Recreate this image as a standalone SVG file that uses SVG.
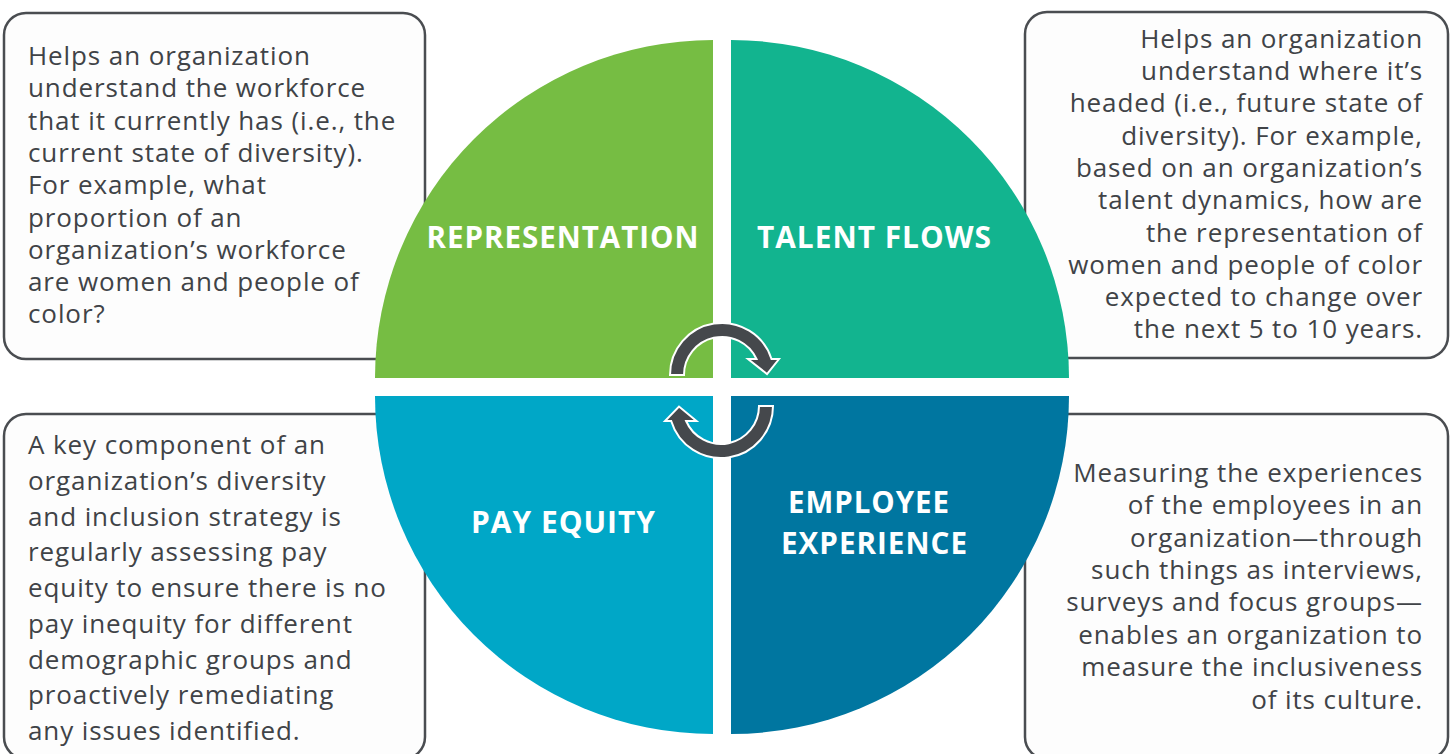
<svg xmlns="http://www.w3.org/2000/svg" width="1455" height="754" viewBox="0 0 1455 754">
<style>
.box{fill:#fdfdfd;stroke:#4a4d51;stroke-width:2.5}
.body{font-family:"Open Sans","Noto Sans","Liberation Sans",sans-serif;font-size:26px;fill:#404347;letter-spacing:0.9px}
.r{text-anchor:end}
.lbl{font-family:"Open Sans","Noto Sans","Liberation Sans",sans-serif;font-weight:bold;font-size:30px;fill:#ffffff;text-anchor:middle;letter-spacing:1px}
.arr{fill:#45484c;stroke:#ffffff;stroke-width:2;stroke-linejoin:miter}
</style>
<rect width="1455" height="754" fill="#ffffff"/>
<g id="box-representation">
<rect class="box" x="4" y="13" width="421" height="346" rx="22"/>
<text class="body" x="28"><tspan x="28" y="65">Helps an organization</tspan><tspan x="28" y="97.3">understand the workforce</tspan><tspan x="28" y="129.6">that it currently has (i.e., the</tspan><tspan x="28" y="161.9">current state of diversity).</tspan><tspan x="28" y="194.2">For example, what</tspan><tspan x="28" y="226.5">proportion of an</tspan><tspan x="28" y="258.8">organization’s workforce</tspan><tspan x="28" y="291.1">are women and people of</tspan><tspan x="28" y="323.4">color?</tspan></text>
</g>
<g id="box-talent-flows">
<rect class="box" x="1025" y="12" width="423" height="346" rx="22"/>
<text class="body r"><tspan x="1423" y="47.7">Helps an organization</tspan><tspan x="1423" y="80">understand where it’s</tspan><tspan x="1423" y="112.3">headed (i.e., future state of</tspan><tspan x="1423" y="144.6">diversity). For example,</tspan><tspan x="1423" y="176.9">based on an organization’s</tspan><tspan x="1423" y="209.2">talent dynamics, how are</tspan><tspan x="1423" y="241.5">the representation  of</tspan><tspan x="1423" y="273.8">women and people of color</tspan><tspan x="1423" y="306.1">expected to change over</tspan><tspan x="1423" y="338.4">the next 5 to 10 years.</tspan></text>
</g>
<g id="box-pay-equity">
<rect class="box" x="4" y="414" width="421" height="345" rx="22"/>
<text class="body"><tspan x="28" y="454">A key component of an</tspan><tspan x="28" y="489.75">organization’s diversity</tspan><tspan x="28" y="525.5">and inclusion strategy is</tspan><tspan x="28" y="561.25">regularly assessing pay</tspan><tspan x="28" y="597">equity to ensure there is no</tspan><tspan x="28" y="632.75">pay inequity for different</tspan><tspan x="28" y="668.5">demographic groups and</tspan><tspan x="28" y="704.25">proactively remediating</tspan><tspan x="28" y="740">any issues identified.</tspan></text>
</g>
<g id="box-employee-experience">
<rect class="box" x="1025" y="414" width="423" height="345" rx="22"/>
<text class="body r"><tspan x="1423" y="481.7">Measuring the experiences</tspan><tspan x="1423" y="514.1">of the employees in an</tspan><tspan x="1423" y="546.5">organization—through</tspan><tspan x="1423" y="578.9">such things as interviews,</tspan><tspan x="1423" y="611.3">surveys and focus groups—</tspan><tspan x="1423" y="643.7">enables an organization to</tspan><tspan x="1423" y="676.1">measure the inclusiveness</tspan><tspan x="1423" y="708.5">of its culture.</tspan></text>
</g>
<g id="node-representation">
<path d="M713,378 L375,378 A338,338 0 0 1 713,40 Z" fill="#76bd43"/>
<text class="lbl" x="563" y="248" textLength="273" lengthAdjust="spacingAndGlyphs">REPRESENTATION</text>
</g>
<g id="node-talent-flows">
<path d="M731,378 L731,40 A338,338 0 0 1 1069,378 Z" fill="#12b48f"/>
<text class="lbl" x="874.5" y="248" textLength="235" lengthAdjust="spacingAndGlyphs">TALENT FLOWS</text>
</g>
<g id="node-pay-equity">
<path d="M713,396 L713,734 A338,338 0 0 1 375,396 Z" fill="#00a7c7"/>
<text class="lbl" x="563.5" y="533" textLength="185" lengthAdjust="spacingAndGlyphs">PAY EQUITY</text>
</g>
<g id="node-employee-experience">
<path d="M731,396 L1069,396 A338,338 0 0 1 731,734 Z" fill="#0076a0"/>
<text class="lbl" x="869" y="513" textLength="162" lengthAdjust="spacingAndGlyphs">EMPLOYEE</text>
<text class="lbl" x="874.5" y="554" textLength="187" lengthAdjust="spacingAndGlyphs">EXPERIENCE</text>
</g>
<g id="connectors">
<path class="arr" d="M670,375 A52,52 0 0 1 771.5,359 L779,359 L767,374 L748,359 L756.5,359 A38,38 0 0 0 684,375 Z"/>
<path class="arr" d="M773,406 A52,52 0 0 1 671.2,421 L665,421 L679,406.5 L696.5,421 L686.1,421 A38,38 0 0 0 759,406 Z"/>
</g>
</svg>
